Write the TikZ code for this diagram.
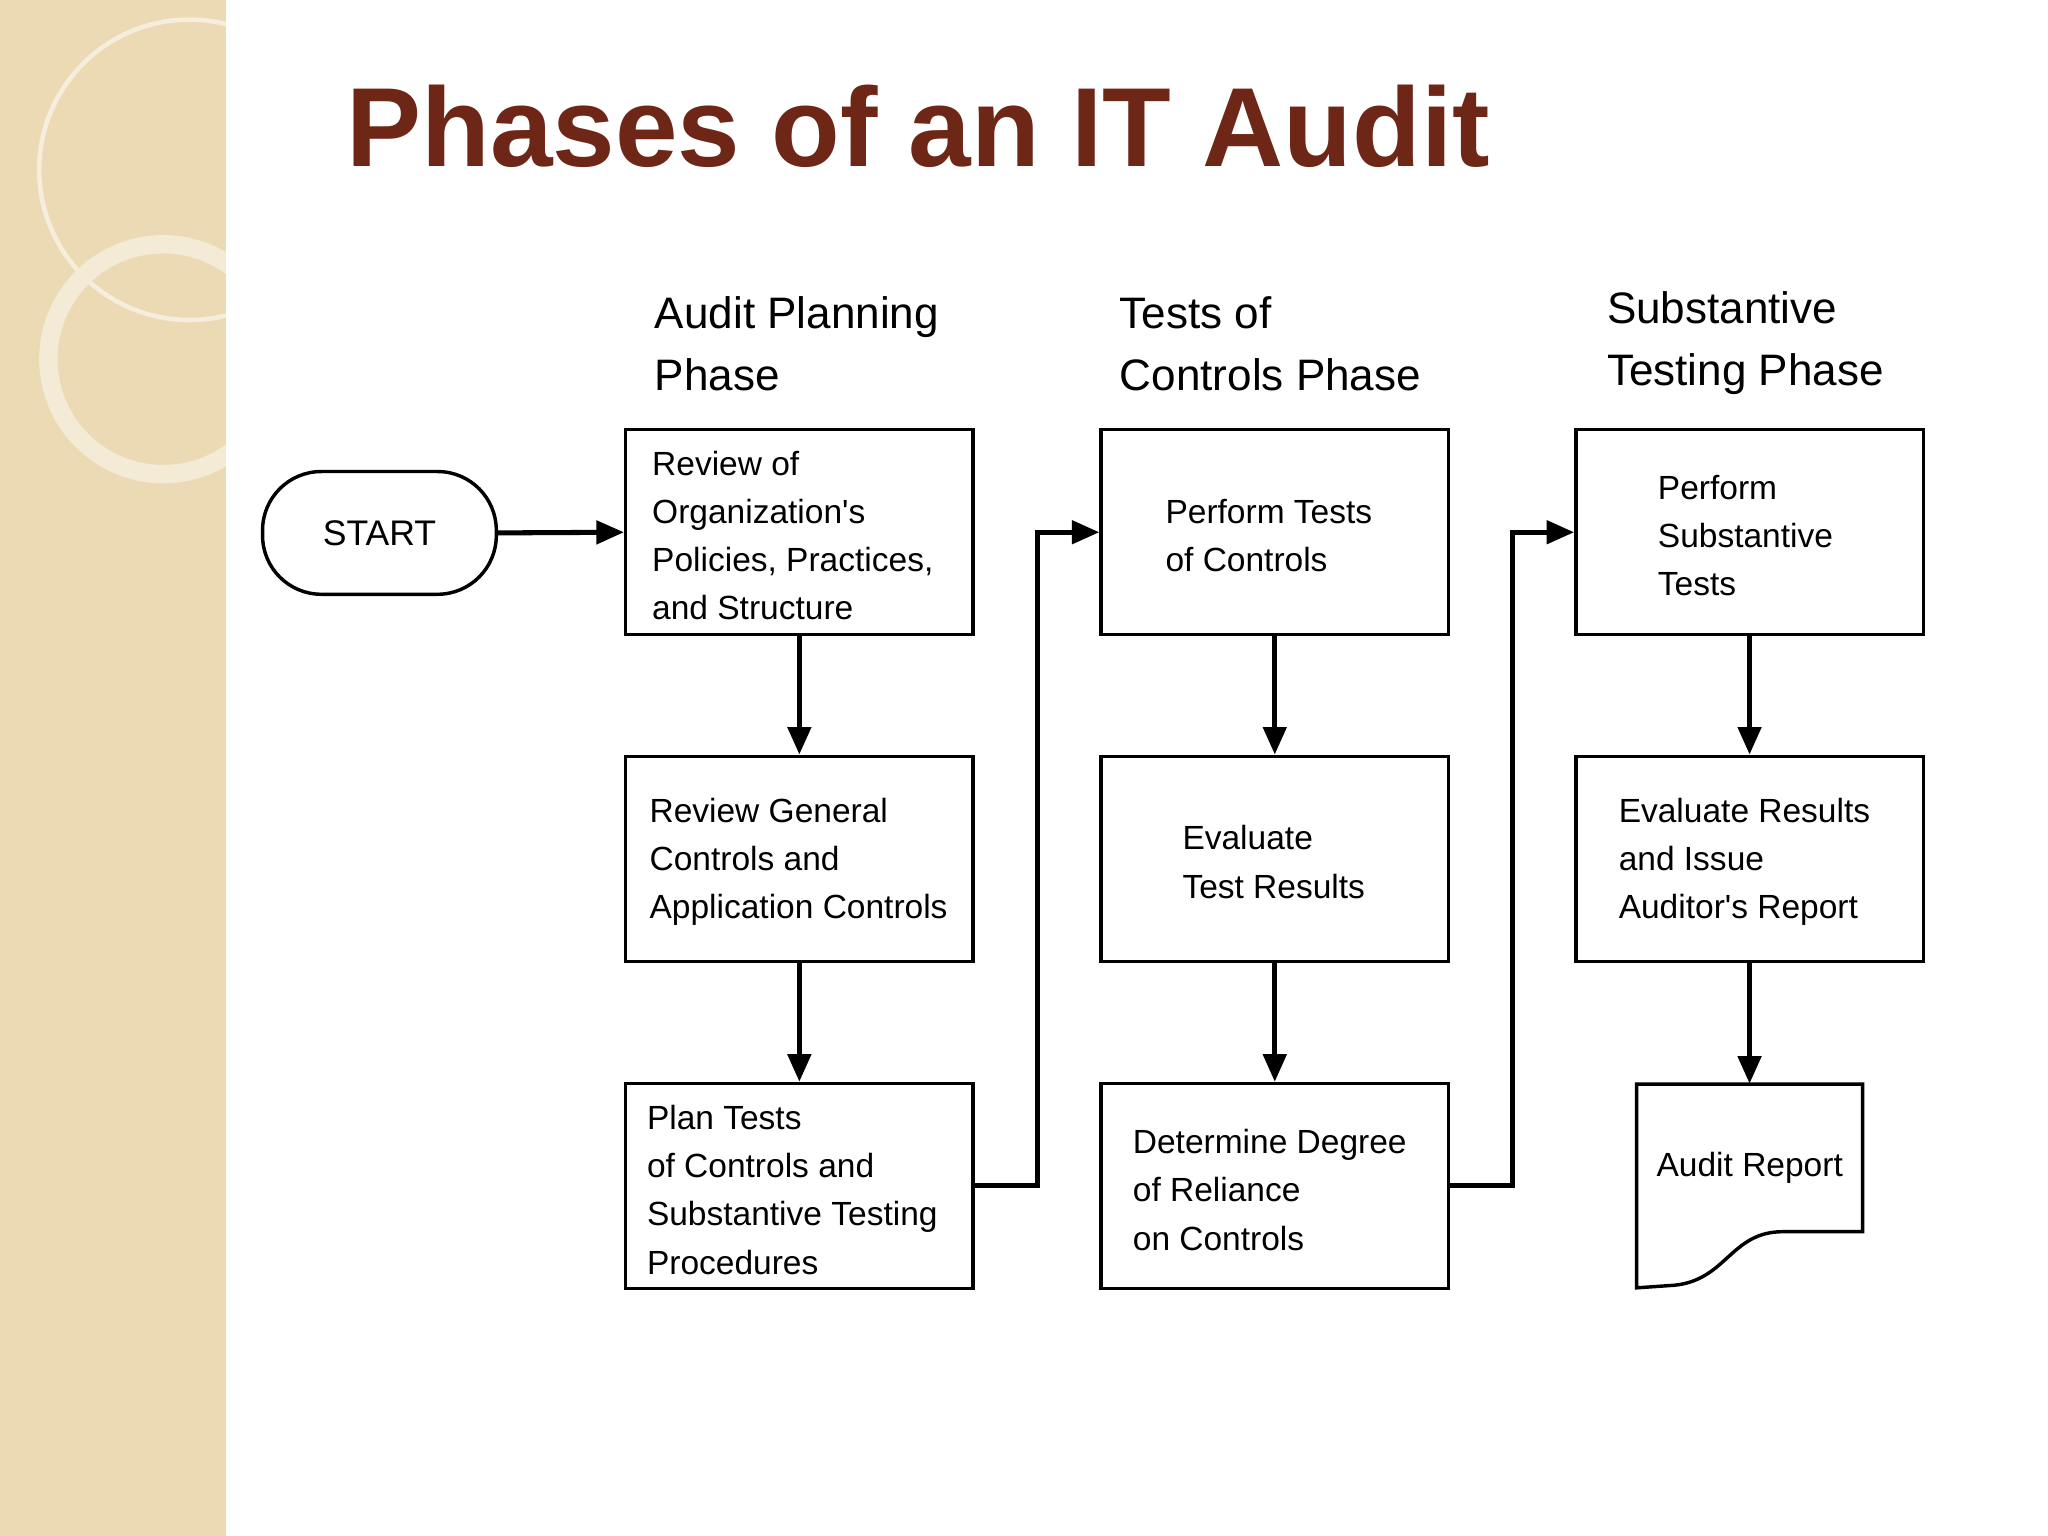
\documentclass[tikz,border=0pt]{standalone}
\usepackage{fontspec}
\setmainfont{Liberation Sans}[Ligatures=TeXOff]
\usetikzlibrary{arrows.meta}
\definecolor{band}{HTML}{EBDAB4}
\definecolor{titlec}{HTML}{6E2616}
\tikzset{
  box/.style={draw,line width=1.5pt,minimum width=5.32cm,minimum height=3.14cm,inner sep=0pt},
  txt/.style={anchor=west,align=left,font=\fontsize{14.6}{21}\selectfont,inner sep=0pt},
  head/.style={anchor=west,align=left,font=\fontsize{19.2}{27}\selectfont,inner sep=0pt},
  arr/.style={line width=2.2pt,-{Triangle[length=12pt,width=10pt]}},
}
\begin{document}
\begin{tikzpicture}[x=0.02cm,y=-0.02cm]
\useasboundingbox (0,0) rectangle (1568,1176);
\fill[band] (0,0) rectangle (173,1176);
\begin{scope}
\clip (0,0) rectangle (173,1176);
\draw[white!55!band,line width=2pt] (145,130) circle (115);
\draw[white!45!band,line width=8pt] (125,275) circle (88);
\end{scope}
\node[anchor=center,font=\fontsize{49}{55}\selectfont\bfseries,text=titlec] (title) at (703,97) {Phases of an IT Audit};
% headers
\node[head] (h1) at (501,263) {Audit Planning\\Phase};
\node[head] (h2) at (857,263) {Tests of\\Controls Phase};
\node[head] (h3) at (1230,263) {Substantive\\Testing Phase};
% start
\node[draw,line width=1.5pt,rounded corners=0.9cm,minimum width=3.58cm,minimum height=1.88cm,font=\fontsize{15.5}{18}\selectfont] (start) at (290.5,408) {START};
% boxes
\node[box] (a1) at (612,407.5) {};
\node[box] (a2) at (612,657.5) {};
\node[box] (a3) at (612,908) {};
\node[box] (b1) at (976,407.5) {};
\node[box] (b2) at (976,657.5) {};
\node[box] (b3) at (976,908) {};
\node[box] (c1) at (1339.5,407.5) {};
\node[box] (c2) at (1339.5,657.5) {};
\draw[line width=1.5pt] (1253,830) -- (1426,830) -- (1426,943) -- (1365,943) .. controls (1325,943) and (1322,980) .. (1282,984) -- (1253,986) -- cycle;
\node[minimum width=3.46cm,minimum height=3.12cm,inner sep=0pt] (rep) at (1339.5,908) {};
% texts
\node[txt] (t1) at (499,410) {Review of\\Organization's\\Policies, Practices,\\and Structure};
\node[txt] (t2) at (497,660) {Review General\\Controls and\\Application Controls};
\node[txt] (t3) at (495,911) {Plan Tests\\of Controls and\\Substantive Testing\\Procedures};
\node[txt] (t4) at (892,410) {Perform Tests\\of Controls};
\node[txt] (t5) at (905,660) {Evaluate\\Test Results};
\node[txt] (t6) at (867,911) {Determine Degree\\of Reliance\\on Controls};
\node[txt] (t7) at (1269,410) {Perform\\Substantive\\Tests};
\node[txt] (t8) at (1239,660) {Evaluate Results\\and Issue\\Auditor's Report};
\node[txt] (t9) at (1268,894) {Audit Report};
% arrows
\draw[arr] (start.east) -- (a1.west);
\draw[arr] (a1.south) -- (a2.north);
\draw[arr] (a2.south) -- (a3.north);
\draw[arr] (b1.south) -- (b2.north);
\draw[arr] (b2.south) -- (b3.north);
\draw[arr] (c1.south) -- (c2.north);
\draw[arr] (c2.south) -- (rep.north);
\draw[arr] (a3.east) -| (794,407.5) -- (b1.west);
\draw[arr] (b3.east) -| (1158,407.5) -- (c1.west);
\end{tikzpicture}
\end{document}
